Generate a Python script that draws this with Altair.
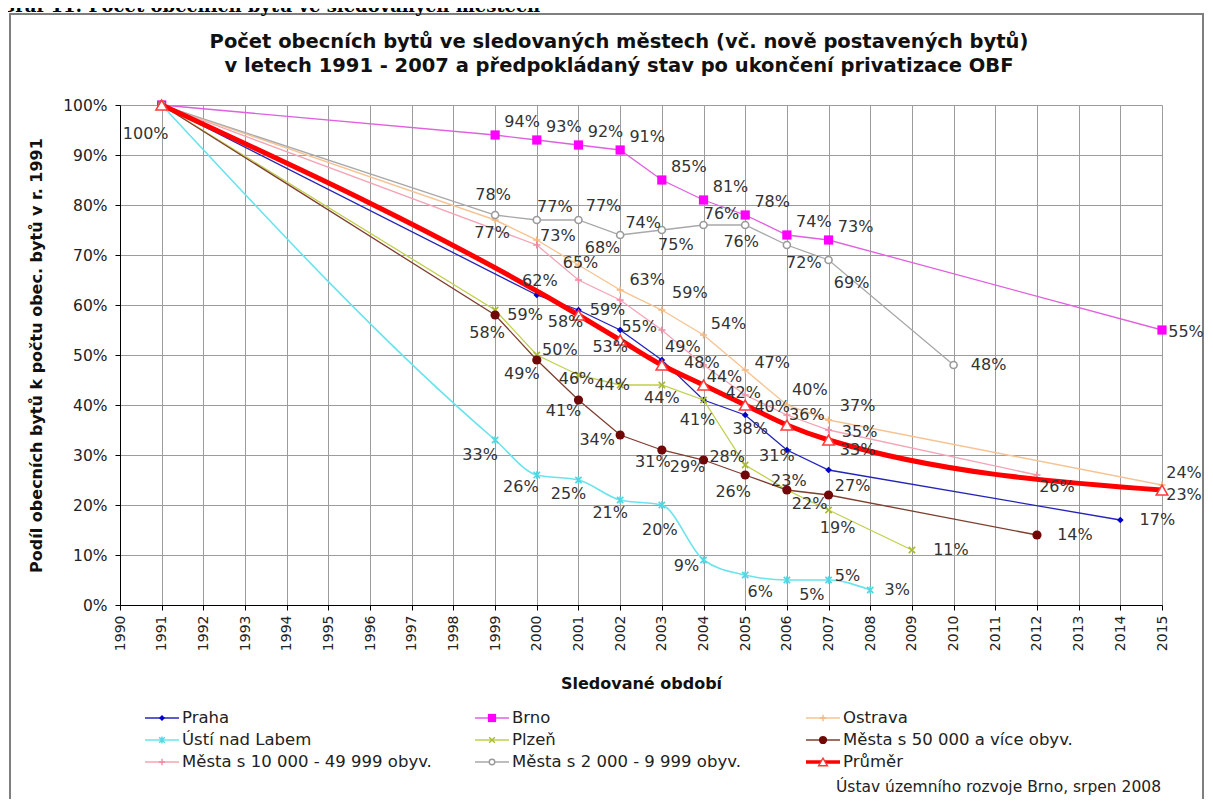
import altair as alt
import pandas as pd

# ---------------- texts ----------------
HEADER = "Graf 11: Počet obecních bytů ve sledovaných městech"
TITLE_1 = "Počet obecních bytů ve sledovaných městech (vč. nově postavených bytů)"
TITLE_2 = "v letech 1991 - 2007 a předpokládaný stav po ukončení privatizace OBF"
X_TITLE = "Sledované období"
Y_TITLE = "Podíl obecních bytů k počtu obec. bytů v r. 1991"
SOURCE = "Ústav územního rozvoje Brno, srpen 2008"

# ---------------- data (share of 1991 stock, %) ----------------
praha_years = [1991, 2000, 2001, 2002, 2003, 2004, 2005, 2006, 2007, 2014]
praha_vals = [100, 62, 59, 55, 49, 41, 38, 31, 27, 17]

brno_years = [1991, 1999, 2000, 2001, 2002, 2003, 2004, 2005, 2006, 2007, 2015]
brno_vals = [100, 94, 93, 92, 91, 85, 81, 78, 74, 73, 55]

ostrava_years = [1991, 1999, 2000, 2001, 2002, 2003, 2004, 2005, 2006, 2007, 2015]
ostrava_vals = [100, 77, 73, 68, 63, 59, 54, 47, 40, 37, 24]

usti_years = [1991, 1999, 2000, 2001, 2002, 2003, 2004, 2005, 2006, 2007, 2008]
usti_vals = [100, 33, 26, 25, 21, 20, 9, 6, 5, 5, 3]

plzen_years = [1991, 1999, 2000, 2001, 2002, 2003, 2004, 2005, 2006, 2007, 2009]
plzen_vals = [100, 59, 50, 46, 44, 44, 41, 28, 23, 19, 11]

m50_years = [1991, 1999, 2000, 2001, 2002, 2003, 2004, 2005, 2006, 2007, 2012]
m50_vals = [100, 58, 49, 41, 34, 31, 29, 26, 23, 22, 14]

m10_years = [1991, 2000, 2001, 2002, 2003, 2004, 2005, 2006, 2007, 2012]
m10_vals = [100, 72, 65, 61, 55, 48, 42, 38, 35, 26]

m2_years = [1991, 1999, 2000, 2001, 2002, 2003, 2004, 2005, 2006, 2007, 2010]
m2_vals = [100, 78, 77, 77, 74, 75, 76, 76, 72, 69, 48]

avg_years = [1991, 2001, 2002, 2003, 2004, 2005, 2006, 2007, 2015]
avg_vals = [100, 58, 53, 48, 44, 40, 36, 33, 23]

SERIES = [
    ("Praha", praha_years, praha_vals),
    ("Brno", brno_years, brno_vals),
    ("Ostrava", ostrava_years, ostrava_vals),
    ("Ústí nad Labem", usti_years, usti_vals),
    ("Plzeň", plzen_years, plzen_vals),
    ("Města s 50 000 a více obyv.", m50_years, m50_vals),
    ("Města s 10 000 - 49 999 obyv.", m10_years, m10_vals),
    ("Města s 2 000 - 9 999 obyv.", m2_years, m2_vals),
    ("Průměr", avg_years, avg_vals),
]

# ---------------- styles ----------------
PLUS = "M-1,0L1,0M0,-1L0,1"
XMARK = "M-1,-1L1,1M-1,1L1,-1"
STAR = "M-1,-1L1,1M-1,1L1,-1M0,-1.2L0,1.2"
STYLE = {
    "Praha": dict(line="#2424B8", lw=1.3, shape="diamond", filled=True, mcol="#0000CC", size=45, interp="linear"),
    "Brno": dict(line="#E060E0", lw=1.3, shape="square", filled=True, mcol="#FF00FF", size=85, interp="linear"),
    "Ostrava": dict(line="#F6C494", lw=1.4, shape=PLUS, filled=False, mcol="#F2B880", size=50, interp="linear"),
    "Ústí nad Labem": dict(line="#6AE4EC", lw=1.6, shape=STAR, filled=False, mcol="#4FD8E2", size=40, interp="monotone"),
    "Plzeň": dict(line="#C0D04C", lw=1.3, shape=XMARK, filled=False, mcol="#A8BC2C", size=40, interp="linear"),
    "Města s 50 000 a více obyv.": dict(line="#7E3E30", lw=1.3, shape="circle", filled=True, mcol="#700808", size=85, interp="linear"),
    "Města s 10 000 - 49 999 obyv.": dict(line="#F4A4B6", lw=1.3, shape=PLUS, filled=False, mcol="#EE8CA4", size=50, interp="linear"),
    "Města s 2 000 - 9 999 obyv.": dict(line="#A8A8A8", lw=1.3, shape="circle", filled=False, mcol="#9A9A9A", size=50, interp="linear"),
    "Průměr": dict(line="#FF0000", lw=5, shape="triangle-up", filled=False, mcol="#FF3A3A", size=130, interp="monotone"),
}

# label placement (pixel offsets from the marker) - layout only
DEFAULT_OFF = {
    "Praha": (20, -12), "Brno": (27, -13), "Ostrava": (26, -12), "Ústí nad Labem": (-12, 15),
    "Plzeň": (10, 8), "Města s 50 000 a více obyv.": (-14, 12),
    "Města s 10 000 - 49 999 obyv.": (20, 0), "Města s 2 000 - 9 999 obyv.": (20, -12),
    "Průměr": (25, 0),
}
OFFSETS = {
    "Praha": {2000: (3, -14), 2001: (29, 0), 2002: (19, -3), 2003: (21, -13), 2004: (-6, 20),
              2005: (5, 14), 2006: (-10, 6), 2007: (24, 16), 2014: (37, 0)},
    "Brno": {2015: (24, 2)},
    "Ostrava": {1999: (-3, 13), 2000: (21, -4), 2001: (24, -17), 2002: (27, -10), 2003: (28, -17),
                2004: (25, -11), 2005: (27, -7), 2006: (23, -15), 2007: (29, -14), 2015: (22, -12)},
    "Ústí nad Labem": {1999: (-15, 15), 2000: (-16, 12), 2001: (-10, 14), 2002: (-10, 13),
                       2003: (-2, 25), 2004: (-17, 6), 2005: (15, 17), 2006: (25, 15),
                       2007: (19, -4), 2008: (27, 0)},
    "Plzeň": {1999: (30, 5), 2000: (23, -5), 2001: (-2, 4), 2002: (-8, 0), 2003: (0, 13),
              2005: (-18, -8), 2007: (9, 18), 2009: (39, 0)},
    "Města s 50 000 a více obyv.": {1999: (-8, 18), 2000: (-15, 14), 2001: (-15, 11), 2002: (-23, 5),
                                    2003: (-9, 12), 2004: (-16, 7), 2005: (-12, 17), 2006: (2, -9),
                                    2007: (-19, 9), 2012: (38, 0)},
    "Města s 10 000 - 49 999 obyv.": {2001: (2, -17), 2005: (-2, -2), 2007: (31, 2), 2012: (20, 12)},
    "Města s 2 000 - 9 999 obyv.": {1999: (-2, -20), 2000: (18, -13), 2001: (25, -14), 2002: (23, -12),
                                    2003: (14, 15), 2004: (18, -11), 2005: (-4, 17), 2006: (17, 18),
                                    2007: (23, 23), 2010: (35, 0)},
    "Průměr": {1991: (-16, 29), 2001: (-13, 7), 2002: (-10, 7), 2003: (40, -2), 2004: (21, -8),
               2005: (27, 2), 2006: (20, -10), 2007: (29, 10), 2015: (22, 5)},
}
SKIP = {("Praha", 1991), ("Brno", 1991), ("Ostrava", 1991), ("Ústí nad Labem", 1991), ("Plzeň", 1991),
        ("Města s 50 000 a více obyv.", 1991), ("Města s 10 000 - 49 999 obyv.", 1991),
        ("Města s 2 000 - 9 999 obyv.", 1991), ("Plzeň", 2004), ("Plzeň", 2006),
        ("Města s 10 000 - 49 999 obyv.", 2000), ("Města s 10 000 - 49 999 obyv.", 2002),
        ("Města s 10 000 - 49 999 obyv.", 2003), ("Města s 10 000 - 49 999 obyv.", 2004),
        ("Města s 10 000 - 49 999 obyv.", 2006)}

# ---------------- geometry ----------------
W, H = 1042, 500
PAD = {"left": 112, "top": 97, "right": 43, "bottom": 194}
OX, OY = 8 + PAD["left"], 8 + PAD["top"]  # page position of plot origin
PX_YEAR = W / 25.0
FONT = "DejaVu Sans"
LABEL_COLOR = "#333333"

xs = alt.Scale(domain=[1990, 2015], nice=False, zero=False)
ys = alt.Scale(domain=[0, 1], nice=False)
x_axis = alt.Axis(values=list(range(1990, 2016)), format="d", labelAngle=270, title=X_TITLE,
                  titleY=78, titleBaseline="middle", labelPadding=5, labelFontSize=14,
                  titleFontSize=16)
y_axis = alt.Axis(values=[i / 10 for i in range(11)], format=".0%", title=Y_TITLE,
                  titleX=-84, titleY=250, titleAngle=270, titleAlign="center",
                  titleBaseline="middle", labelPadding=8, labelFontSize=15.5,
                  titleFontSize=16)


def X(f="year"):
    return alt.X(f"{f}:Q", scale=xs, axis=x_axis)


def Y(f="v"):
    return alt.Y(f"{f}:Q", scale=ys, axis=y_axis)


rows, labs = [], []
for name, yrs, vals in SERIES:
    for yr, v in zip(yrs, vals):
        rows.append({"series": name, "year": yr, "v": v / 100.0})
        if (name, yr) in SKIP:
            continue
        dx, dy = OFFSETS.get(name, {}).get(yr, DEFAULT_OFF[name])
        labs.append({"series": name, "year": yr + dx / PX_YEAR, "v": v / 100.0 - dy / H,
                     "text": f"{v}%"})
df = pd.DataFrame(rows)
lab_df = pd.DataFrame(labs)
one = pd.DataFrame({"k": [0]})

layers = []

# frame around the whole chart
layers.append(alt.Chart(one).mark_rect(fillOpacity=0, stroke="#7f7f7f", strokeWidth=2).encode(
    x=alt.value(10 - OX), x2=alt.value(1203 - OX), y=alt.value(14 - OY), y2=alt.value(830 - OY)))

# header text cut at top
layers.append(alt.Chart(one).mark_text(align="left", baseline="alphabetic", font="DejaVu Serif",
                                       fontWeight="bold", fontSize=18, color="#000000").encode(
    x=alt.value(0 - OX), y=alt.value(12 - OY), text=alt.value(HEADER)))

# titles
for txt, ty in [(TITLE_1, 42), (TITLE_2, 66)]:
    layers.append(alt.Chart(one).mark_text(fontSize=19.5, fontWeight="bold", font=FONT, color="#111111").encode(
        x=alt.value(619 - OX), y=alt.value(ty - OY), text=alt.value(txt)))

# lines & markers
for name, _, _ in SERIES:
    st = STYLE[name]
    sub = df[df.series == name]
    layers.append(alt.Chart(sub).mark_line(color=st["line"], strokeWidth=st["lw"],
                                           interpolate=st["interp"]).encode(x=X(), y=Y()))
    if st["filled"]:
        pm = alt.Chart(sub).mark_point(shape=st["shape"], filled=True, fill=st["mcol"],
                                       size=st["size"], opacity=1)
    elif st["shape"] in ("circle", "triangle-up"):
        pm = alt.Chart(sub).mark_point(shape=st["shape"], filled=False, stroke=st["mcol"], fill="white",
                                       strokeWidth=1.6, size=st["size"], opacity=1)
    else:
        pm = alt.Chart(sub).mark_point(shape=st["shape"], filled=False, stroke=st["mcol"],
                                       strokeWidth=1.6, size=st["size"], opacity=1)
    layers.append(pm.encode(x=X(), y=Y()))

# data labels
layers.append(alt.Chart(lab_df).mark_text(fontSize=16, font=FONT, color=LABEL_COLOR).encode(
    x=X(), y=Y(), text="text:N"))

# legend
LEG_TX = [182, 512, 843]
LEG_TY = [718, 740, 762]
for i, (name, _, _) in enumerate(SERIES):
    st = STYLE[name]
    tx, ty = LEG_TX[i % 3] - OX, LEG_TY[i // 3] - OY
    layers.append(alt.Chart(one).mark_rule(color=st["line"], strokeWidth=min(st["lw"], 3.5)).encode(
        x=alt.value(tx - 37), x2=alt.value(tx - 3), y=alt.value(ty)))
    if st["filled"]:
        lp = alt.Chart(one).mark_point(shape=st["shape"], filled=True, fill=st["mcol"],
                                       size=st["size"] * 0.8, opacity=1)
    elif st["shape"] in ("circle", "triangle-up"):
        lp = alt.Chart(one).mark_point(shape=st["shape"], filled=False, stroke=st["mcol"], fill="white",
                                       strokeWidth=1.4, size=st["size"] * 0.6, opacity=1)
    else:
        lp = alt.Chart(one).mark_point(shape=st["shape"], filled=False, stroke=st["mcol"],
                                       strokeWidth=1.4, size=st["size"] * 0.8, opacity=1)
    layers.append(lp.encode(x=alt.value(tx - 20), y=alt.value(ty)))
    layers.append(alt.Chart(one).mark_text(align="left", fontSize=16.5, font=FONT, color="#222222").encode(
        x=alt.value(tx), y=alt.value(ty), text=alt.value(name)))

# source note
layers.append(alt.Chart(one).mark_text(align="left", fontSize=15.5, font=FONT, color="#222222").encode(
    x=alt.value(836 - OX), y=alt.value(787 - OY), text=alt.value(SOURCE)))

chart = alt.layer(*layers).properties(
    width=W, height=H,
    autosize=alt.AutoSizeParams(type="none"),
    padding=PAD,
).configure(font=FONT, background="white").configure_view(stroke=None).configure_axis(
    domainColor="#000000", tickColor="#000000", tickSize=5, gridColor="#9c9c9c", gridWidth=1,
    labelFont=FONT, labelColor="#222222",
    titleFont=FONT, titleFontWeight="bold", titleColor="#111111",
)

chart.save("out.html", embed_options={"renderer": "svg", "actions": False})
